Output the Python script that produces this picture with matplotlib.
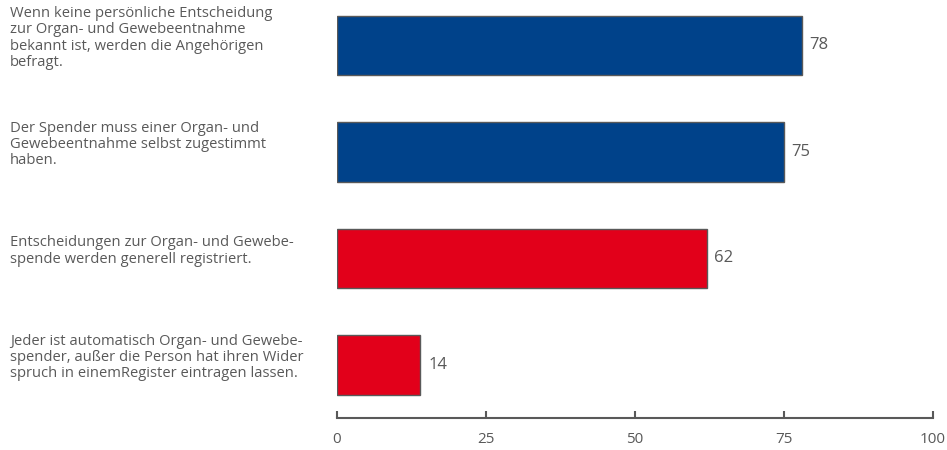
import matplotlib
matplotlib.use("Agg")
import matplotlib.pyplot as plt
import matplotlib.transforms as mtransforms

plt.rcParams['font.family'] = ['Open Sans', 'DejaVu Sans']

# data
labels = [
    "Wenn keine persönliche Entscheidung\nzur Organ- und Gewebeentnahme\nbekannt ist, werden die Angehörigen\nbefragt.",
    "Der Spender muss einer Organ- und\nGewebeentnahme selbst zugestimmt\nhaben.",
    "Entscheidungen zur Organ- und Gewebe-\nspende werden generell registriert.",
    "Jeder ist automatisch Organ- und Gewebe-\nspender, außer die Person hat ihren Wider\nspruch in einemRegister eintragen lassen.",
]
values = [78, 75, 62, 14]
colors = ["#00428A", "#00428A", "#E2001A", "#E2001A"]
xticks = [0, 25, 50, 75, 100]

txt = "#595959"

fig = plt.figure(figsize=(9.47, 4.5), dpi=100)
ax = fig.add_axes([337 / 947, 32 / 450, 596 / 947, 418 / 450])

ypos = list(range(len(values)))
ax.barh(ypos, values, height=0.56, color=colors, edgecolor="#595959", linewidth=1.0)

ax.set_xlim(0, 100)
ax.set_ylim(3.498, -0.427)

for y, v in zip(ypos, values):
    ax.text(v + 1.3, y, str(v), va="center", ha="left", fontsize=12, color=txt)

trans = mtransforms.blended_transform_factory(fig.transFigure, ax.transData)
for y, lab in zip(ypos, labels):
    ax.text(10 / 947, y - 0.07, lab, transform=trans, va="center", ha="left",
            fontsize=10.6, color=txt, linespacing=1.12)

for s in ["top", "right", "left"]:
    ax.spines[s].set_visible(False)
ax.spines["bottom"].set_color("#595959")
ax.spines["bottom"].set_linewidth(1.5)
ax.set_yticks([])
ax.set_xticks(xticks)
ax.tick_params(axis="x", direction="in", length=5, width=1.5, color="#595959",
               labelcolor=txt, labelsize=11, pad=10)

fig.savefig("out.png", dpi=100)
